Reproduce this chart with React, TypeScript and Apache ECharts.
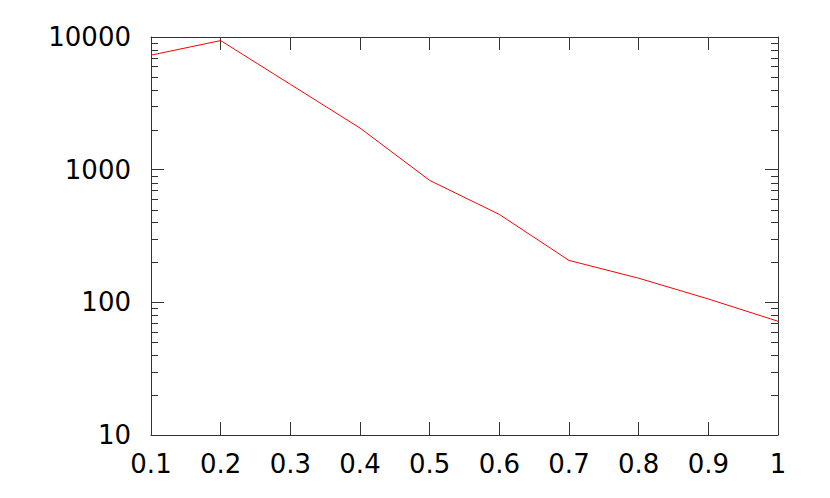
import React, { useEffect, useRef } from "react";
import * as echarts from "echarts";

const xValues = [0.1, 0.2, 0.3, 0.4, 0.5, 0.6, 0.7, 0.8, 0.9, 1.0];
const yValues = [7300, 9400, 4400, 2060, 830, 460, 207, 152, 106, 72];
const minorTickValues = [
  20, 30, 40, 50, 60, 70, 80, 90,
  200, 300, 400, 500, 600, 700, 800, 900,
  2000, 3000, 4000, 5000, 6000, 7000, 8000, 9000,
];

const AXIS_COLOR = "#333";
const FONT = "DejaVu Sans";

export default function App() {
  const ref = useRef<HTMLDivElement>(null);
  useEffect(() => {
    if (!ref.current) return;
    const chart = echarts.init(ref.current, undefined, { renderer: "svg" });
    const common = {
      axisLine: { show: true, lineStyle: { color: AXIS_COLOR, width: 1 } },
      splitLine: { show: false },
    };
    chart.setOption({
      animation: false,
      backgroundColor: "#fff",
      grid: { left: 151, right: 52, top: 37, bottom: 63, containLabel: false },
      xAxis: [
        {
          type: "value",
          min: 0.1,
          max: 1,
          interval: 0.1,
          position: "bottom",
          ...common,
          axisTick: { show: true, inside: true, length: 13, lineStyle: { color: AXIS_COLOR } },
          axisLabel: {
            fontFamily: FONT,
            fontSize: 26,
            color: "#000",
            margin: 16,
            formatter: (v: number) => String(Math.round(v * 10) / 10),
          },
        },
        {
          type: "value",
          min: 0.1,
          max: 1,
          interval: 0.1,
          position: "top",
          ...common,
          axisTick: { show: true, inside: true, length: 13, lineStyle: { color: AXIS_COLOR } },
          axisLabel: { show: false },
        },
      ],
      yAxis: [
        {
          type: "log",
          logBase: 10,
          min: 10,
          max: 10000,
          position: "left",
          ...common,
          axisTick: { show: true, inside: true, length: 13, lineStyle: { color: AXIS_COLOR } },
          axisLabel: {
            fontFamily: FONT,
            fontSize: 26,
            color: "#000",
            margin: 20,
            formatter: (v: number) => String(Math.round(v)),
          },
        },
        {
          type: "log",
          logBase: 10,
          min: 10,
          max: 10000,
          position: "right",
          ...common,
          axisTick: { show: true, inside: true, length: 13, lineStyle: { color: AXIS_COLOR } },
          axisLabel: { show: false },
        },
      ],
      series: [
        {
          type: "line",
          xAxisIndex: 0,
          yAxisIndex: 0,
          data: xValues.map((x, i) => [x, yValues[i]]),
          showSymbol: false,
          symbol: "none",
          lineStyle: { color: "#ff0000", width: 1 },
          itemStyle: { color: "#ff0000" },
        },
        {
          type: "custom",
          xAxisIndex: 0,
          yAxisIndex: 0,
          data: minorTickValues.map((v) => [0.1, v]),
          encode: { x: 0, y: 1 },
          renderItem: (params: any, api: any) => {
            const pt = api.coord([api.value(0), api.value(1)]);
            const cs = params.coordSys;
            const y = Math.round(pt[1]) + 0.5;
            const len = 7;
            return {
              type: "group",
              children: [
                {
                  type: "line",
                  shape: { x1: cs.x, y1: y, x2: cs.x + len, y2: y },
                  style: { stroke: AXIS_COLOR, lineWidth: 1 },
                },
                {
                  type: "line",
                  shape: { x1: cs.x + cs.width - len, y1: y, x2: cs.x + cs.width, y2: y },
                  style: { stroke: AXIS_COLOR, lineWidth: 1 },
                },
              ],
            };
          },
          silent: true,
          z: 3,
        },
      ],
    });
    return () => chart.dispose();
  }, []);
  return (
    <div
      ref={ref}
      style={{ position: "fixed", left: 0, top: 0, width: 830, height: 498, background: "#fff" }}
    />
  );
}
